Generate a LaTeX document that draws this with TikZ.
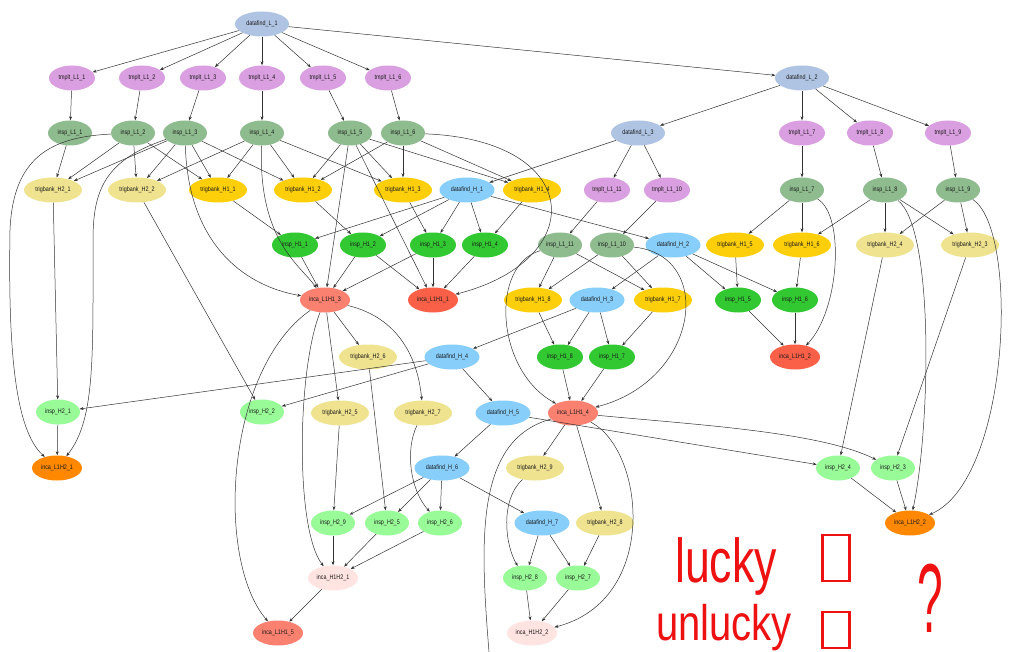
\documentclass[tikz,border=0pt]{standalone}
\usepackage{fontspec}
\setmainfont{Liberation Sans}
\usetikzlibrary{arrows.meta,shapes.geometric}
\definecolor{cdl}{HTML}{AFC3E3}
\definecolor{ctm}{HTML}{DA9FE0}
\definecolor{cil}{HTML}{8FBC8F}
\definecolor{ctbb}{HTML}{EFE38F}
\definecolor{ctba}{HTML}{FDCF0A}
\definecolor{cdh}{HTML}{87CEFA}
\definecolor{cih}{HTML}{32C832}
\definecolor{ctom}{HTML}{FA5F48}
\definecolor{csal}{HTML}{FA8070}
\definecolor{cjh}{HTML}{98FB98}
\definecolor{corg}{HTML}{FF8800}
\definecolor{cmr}{HTML}{FFE4E1}
\definecolor{hand}{HTML}{EE1111}
\tikzset{
  job/.style={ellipse, inner sep=0pt, minimum height=25pt, font=\fontsize{6.6}{7}\selectfont, text=black!90},
  dl/.style={job, fill=cdl, minimum width=54pt},
  tm/.style={job, fill=ctm, minimum width=46pt},
  il/.style={job, fill=cil, minimum width=44pt},
  tbb/.style={job, fill=ctbb, minimum width=58pt},
  tba/.style={job, fill=ctba, minimum width=58pt},
  dh/.style={job, fill=cdh, minimum width=55pt},
  ih/.style={job, fill=cih, minimum width=46pt},
  jh/.style={job, fill=cjh, minimum width=44pt},
  cto/.style={job, fill=ctom, minimum width=50pt},
  csa/.style={job, fill=csal, minimum width=50pt},
  cor/.style={job, fill=corg, minimum width=50pt},
  cmi/.style={job, fill=cmr, minimum width=50pt},
  arr/.style={-{Stealth[length=4pt,width=3pt]}, line width=0.5pt, draw=black!80},
  ln/.style={line width=0.5pt, draw=black!80},
  handtext/.style={text=hand, inner sep=0pt},
  handbox/.style={draw=hand, line width=2.4pt, minimum width=27pt, inner sep=0pt},
}
\newcommand{\lb}[1]{\scalebox{0.82}[1]{#1}}
\begin{document}
\begin{tikzpicture}[x=1pt,y=-1pt]
\useasboundingbox (0,0) rectangle (1016,652);
\fill[white] (0,0) rectangle (1016,652);
% row 1
\node[dl] (dL1) at (262,24) {\lb{datafind\_L\_1}};
% row 2
\node[tm] (tL1) at (72,78) {\lb{tmplt\_L1\_1}};
\node[tm] (tL2) at (142,78) {\lb{tmplt\_L1\_2}};
\node[tm] (tL3) at (203,78) {\lb{tmplt\_L1\_3}};
\node[tm] (tL4) at (262,78) {\lb{tmplt\_L1\_4}};
\node[tm] (tL5) at (323,78) {\lb{tmplt\_L1\_5}};
\node[tm] (tL6) at (388,78) {\lb{tmplt\_L1\_6}};
\node[dl] (dL2) at (802,78) {\lb{datafind\_L\_2}};
% row 3
\node[il] (iL1) at (70,133) {\lb{insp\_L1\_1}};
\node[il] (iL2) at (133,133) {\lb{insp\_L1\_2}};
\node[il] (iL3) at (185,133) {\lb{insp\_L1\_3}};
\node[il] (iL4) at (262,133) {\lb{insp\_L1\_4}};
\node[il] (iL5) at (350,133) {\lb{insp\_L1\_5}};
\node[il] (iL6) at (403,133) {\lb{insp\_L1\_6}};
\node[dl] (dL3) at (638,133) {\lb{datafind\_L\_3}};
\node[tm] (tL7) at (802,133) {\lb{tmplt\_L1\_7}};
\node[tm] (tL8) at (870,133) {\lb{tmplt\_L1\_8}};
\node[tm] (tL9) at (948,133) {\lb{tmplt\_L1\_9}};
% row 4
\node[tbb] (tbB1) at (53,190) {\lb{trigbank\_H2\_1}};
\node[tbb] (tbB2) at (137,190) {\lb{trigbank\_H2\_2}};
\node[tba] (tbA1) at (218,190) {\lb{trigbank\_H1\_1}};
\node[tba] (tbA2) at (303,190) {\lb{trigbank\_H1\_2}};
\node[tba] (tbA3) at (403,190) {\lb{trigbank\_H1\_3}};
\node[dh] (dH1) at (467,190) {\lb{datafind\_H\_1}};
\node[tba] (tbA4) at (532,190) {\lb{trigbank\_H1\_4}};
\node[tm] (tL11) at (607,190) {\lb{tmplt\_L1\_11}};
\node[tm] (tL10) at (667,190) {\lb{tmplt\_L1\_10}};
\node[il] (iL7) at (802,190) {\lb{insp\_L1\_7}};
\node[il] (iL8) at (885,190) {\lb{insp\_L1\_8}};
\node[il] (iL9) at (958,190) {\lb{insp\_L1\_9}};
% row 5
\node[ih] (iH1) at (295,245) {\lb{insp\_H1\_1}};
\node[ih] (iH2) at (363,245) {\lb{insp\_H1\_2}};
\node[ih] (iH3) at (433,245) {\lb{insp\_H1\_3}};
\node[ih] (iH4) at (485,245) {\lb{insp\_H1\_4}};
\node[il] (iL11) at (560,245) {\lb{insp\_L1\_11}};
\node[il] (iL10) at (612,245) {\lb{insp\_L1\_10}};
\node[dh] (dH2) at (673,245) {\lb{datafind\_H\_2}};
\node[tba] (tbA5) at (735,245) {\lb{trigbank\_H1\_5}};
\node[tba] (tbA6) at (802,245) {\lb{trigbank\_H1\_6}};
\node[tbb] (tbB4) at (885,245) {\lb{trigbank\_H2\_4}};
\node[tbb] (tbB3) at (970,245) {\lb{trigbank\_H2\_3}};
% row 6
\node[csa] (cA3) at (325,300) {\lb{inca\_L1H1\_3}};
\node[cto] (cA1) at (433,300) {\lb{inca\_L1H1\_1}};
\node[tba] (tbA8) at (533,300) {\lb{trigbank\_H1\_8}};
\node[dh] (dH3) at (597,300) {\lb{datafind\_H\_3}};
\node[tba] (tbA7) at (663,300) {\lb{trigbank\_H1\_7}};
\node[ih] (iH5) at (738,300) {\lb{insp\_H1\_5}};
\node[ih] (iH6) at (795,300) {\lb{insp\_H1\_6}};
% row 7
\node[tbb] (tbB6) at (368,357) {\lb{trigbank\_H2\_6}};
\node[dh] (dH4) at (452,357) {\lb{datafind\_H\_4}};
\node[ih] (iH8) at (560,357) {\lb{insp\_H1\_8}};
\node[ih] (iH7) at (612,357) {\lb{insp\_H1\_7}};
\node[cto] (cA2) at (795,357) {\lb{inca\_L1H1\_2}};
% row 8
\node[jh] (jB1) at (58,412) {\lb{insp\_H2\_1}};
\node[jh] (jB2) at (262,412) {\lb{insp\_H2\_2}};
\node[tbb] (tbB5) at (340,413) {\lb{trigbank\_H2\_5}};
\node[tbb] (tbB7) at (423,413) {\lb{trigbank\_H2\_7}};
\node[dh] (dH5) at (503,413) {\lb{datafind\_H\_5}};
\node[csa] (cA4) at (573,413) {\lb{inca\_L1H1\_4}};
% row 9
\node[cor] (cB1) at (57,468) {\lb{inca\_L1H2\_1}};
\node[dh] (dH6) at (442,468) {\lb{datafind\_H\_6}};
\node[tbb] (tbB9) at (535,468) {\lb{trigbank\_H2\_9}};
\node[jh] (jB4) at (838,468) {\lb{insp\_H2\_4}};
\node[jh] (jB3) at (893,468) {\lb{insp\_H2\_3}};
% row 10
\node[jh] (jB9) at (333,523) {\lb{insp\_H2\_9}};
\node[jh] (jB5) at (387,523) {\lb{insp\_H2\_5}};
\node[jh] (jB6) at (440,523) {\lb{insp\_H2\_6}};
\node[dh] (dH7) at (542,523) {\lb{datafind\_H\_7}};
\node[tbb] (tbB8) at (605,523) {\lb{trigbank\_H2\_8}};
\node[cor] (cB2) at (910,523) {\lb{inca\_L1H2\_2}};
% row 11
\node[cmi] (cH1) at (333,578) {\lb{inca\_H1H2\_1}};
\node[jh] (jB8) at (525,578) {\lb{insp\_H2\_8}};
\node[jh] (jB7) at (578,578) {\lb{insp\_H2\_7}};
% row 12
\node[csa] (cA5) at (278,633) {\lb{inca\_L1H1\_5}};
\node[cmi] (cH2) at (532,633) {\lb{inca\_H1H2\_2}};
\coordinate (offb) at (489,652);

% ---- edges ----
\foreach \t in {tL1,tL2,tL3,tL4,tL5,tL6,dL2} \draw[arr] (dL1) -- (\t);
\foreach \t in {dL3,tL7,tL8,tL9} \draw[arr] (dL2) -- (\t);
\foreach \t in {tL11,tL10,dH1} \draw[arr] (dL3) -- (\t);
\foreach \a/\b in {tL1/iL1,tL2/iL2,tL3/iL3,tL4/iL4,tL5/iL5,tL6/iL6,tL7/iL7,tL8/iL8,tL9/iL9,tL10/iL10,tL11/iL11}
  \draw[arr] (\a) -- (\b);
\draw[arr] (iL1) -- (tbB1);
\foreach \t in {tbB1,tbB2,tbA1} \draw[arr] (iL2) -- (\t);
\foreach \t in {tbB1,tbB2,tbA1,tbA2} \draw[arr] (iL3) -- (\t);
\foreach \t in {tbB2,tbA1,tbA2,tbA3} \draw[arr] (iL4) -- (\t);
\foreach \t in {tbA2,tbA3,tbA4,cA3,cA1} \draw[arr] (iL5) -- (\t);
\foreach \t in {tbA2,tbA3,tbA4} \draw[arr] (iL6) -- (\t);
\draw[arr] (iL2) .. controls (50,137) and (13,158) .. (10,230) .. controls (8,350) and (15,430) .. (cB1);
\draw[arr] (iL3) .. controls (105,160) and (93,190) .. (93,240) .. controls (93,360) and (95,420) .. (cB1);
\draw[arr] (iL3) .. controls (188,240) and (240,285) .. (cA3);
\draw[arr] (iL4) .. controls (258,240) and (300,265) .. (cA3);
\draw[arr] (iL6) .. controls (585,140) and (590,260) .. (cA1);
\foreach \a/\b in {tbA1/iH1,tbA2/iH2,tbA3/iH3,tbA4/iH4} \draw[arr] (\a) -- (\b);
\foreach \t in {iH1,iH2,iH3,iH4,dH2} \draw[arr] (dH1) -- (\t);
\draw[arr] (iH1) -- (cA3);
\foreach \t in {cA3,cA1} \draw[arr] (iH2) -- (\t);
\foreach \t in {cA3,cA1} \draw[arr] (iH3) -- (\t);
\draw[arr] (iH4) -- (cA1);
% right part
\foreach \t in {tbA5,tbA6} \draw[arr] (iL7) -- (\t);
\foreach \t in {tbA6,tbB4,tbB3} \draw[arr] (iL8) -- (\t);
\foreach \t in {tbB4,tbB3} \draw[arr] (iL9) -- (\t);
\draw[arr] (iL7) .. controls (845,215) and (840,310) .. (cA2);
\draw[arr] (iL8) .. controls (935,230) and (930,430) .. (cB2);
\draw[arr] (iL9) .. controls (1020,230) and (1010,480) .. (cB2);
\draw[arr] (tbA5) -- (iH5);
\draw[arr] (tbA6) -- (iH6);
\foreach \t in {iH5,iH6,dH3} \draw[arr] (dH2) -- (\t);
\draw[arr] (iH5) -- (cA2);
\draw[arr] (iH6) -- (cA2);
\draw[arr] (tbB4) -- (jB4);
\draw[arr] (tbB3) -- (jB3);
\draw[arr] (jB4) -- (cB2);
\draw[arr] (jB3) -- (cB2);
% middle
\foreach \t in {tbA8,tbA7} \draw[arr] (iL11) -- (\t);
\foreach \t in {tbA8,tbA7} \draw[arr] (iL10) -- (\t);
\draw[arr] (iL11) .. controls (490,265) and (495,370) .. (cA4);
\draw[arr] (iL10) .. controls (715,255) and (700,380) .. (cA4);
\draw[arr] (tbA8) -- (iH8);
\draw[arr] (tbA7) -- (iH7);
\foreach \t in {iH8,iH7,dH4} \draw[arr] (dH3) -- (\t);
\draw[arr] (iH8) -- (cA4);
\draw[arr] (iH7) -- (cA4);
\foreach \t in {jB1,jB2,dH5} \draw[arr] (dH4) -- (\t);
\draw[arr] (tbB1) -- (jB1);
\draw[arr] (tbB2) -- (jB2);
\draw[arr] (jB1) -- (cB1);
% inca_L1H1_3 outputs
\draw[arr] (cA3) -- (tbB6);
\draw[arr] (cA3) -- (tbB5);
\draw[arr] (cA3) .. controls (400,318) and (418,360) .. (tbB7);
\draw[arr] (cA3) .. controls (225,370) and (215,560) .. (cA5);
\draw[arr] (cA3) .. controls (297,370) and (295,530) .. (cH1);
% lower
\draw[arr] (dH5) -- (dH6);
\draw[arr] (dH5) -- (jB4);
\draw[arr] (cA4) .. controls (700,425) and (820,432) .. (jB3);
\draw[arr] (cA4) -- (tbB9);
\draw[arr] (cA4) -- (tbB8);
\draw[arr] (cA4) .. controls (645,450) and (660,600) .. (cH2);
\draw[ln] (cA4) .. controls (475,440) and (480,540) .. (offb);
\foreach \t in {jB9,jB5,jB6,dH7} \draw[arr] (dH6) -- (\t);
\draw[arr] (tbB5) -- (jB9);
\draw[arr] (tbB6) -- (jB5);
\draw[arr] (tbB7) .. controls (405,450) and (410,490) .. (jB6);
\foreach \s in {jB9,jB5,jB6} \draw[arr] (\s) -- (cH1);
\draw[arr] (cH1) -- (cA5);
\foreach \t in {jB8,jB7} \draw[arr] (dH7) -- (\t);
\draw[arr] (tbB9) .. controls (500,500) and (505,545) .. (jB8);
\draw[arr] (tbB8) -- (jB7);
\draw[arr] (jB8) -- (cH2);
\draw[arr] (jB7) -- (cH2);

% ---- handwritten note ----
\node[handtext, anchor=base west] (lucky) at (675,582) {\fontsize{62}{62}\selectfont\scalebox{0.72}[1]{lucky}};
\node[handbox, minimum height=46pt] (box1) at (836,558) {};
\node[handtext, anchor=base west] (unlucky) at (656,640) {\fontsize{50}{50}\selectfont\scalebox{0.8}[1]{unlucky}};
\node[handbox, minimum height=36pt] (box2) at (836,630) {};
\node[handtext, anchor=base] (qmark) at (930,632) {\fontsize{98}{98}\selectfont\scalebox{0.47}[1]{?}};
\end{tikzpicture}
\end{document}
